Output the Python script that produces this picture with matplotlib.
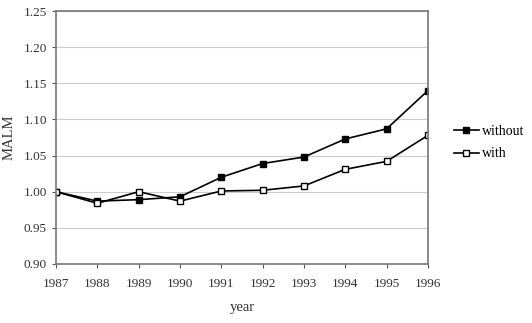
import matplotlib.pyplot as plt

years = [1987, 1988, 1989, 1990, 1991, 1992, 1993, 1994, 1995, 1996]
without = [1.000, 0.987, 0.989, 0.993, 1.020, 1.039, 1.048, 1.073, 1.087, 1.140]
with_ = [1.000, 0.984, 1.000, 0.987, 1.001, 1.002, 1.008, 1.031, 1.042, 1.078]

plt.rcParams['font.family'] = ['Liberation Serif', 'DejaVu Serif']

fig = plt.figure(figsize=(5.32, 3.23), dpi=100)
ax = fig.add_axes([56/532, 1-264/323, (428-56)/532, (264-11)/323])

ax.plot(years, without, color='black', lw=1.2, marker='s', ms=5,
        mfc='black', mec='black', label='without')
ax.plot(years, with_, color='black', lw=1.2, marker='s', ms=5,
        mfc='white', mec='black', mew=1.0, label='with')

ax.set_xlim(1987, 1996)
ax.set_ylim(0.90, 1.25)
ax.set_xticks(years)
ax.set_yticks([0.90, 0.95, 1.00, 1.05, 1.10, 1.15, 1.20, 1.25])
ax.set_yticklabels(['%.2f' % v for v in ax.get_yticks()])
ax.tick_params(labelsize=9.5, length=3, color='#555555')
ax.tick_params(axis='x', pad=7)
ax.grid(True, axis='y', color='#cccccc', lw=0.8)
ax.set_axisbelow(True)
for s in ax.spines.values():
    s.set_color('#777777')
    s.set_linewidth(1.2)
for lab in ax.get_xticklabels() + ax.get_yticklabels():
    lab.set_color('#333333')

ax.set_ylabel('MALM', fontsize=10.5, color='#333333', labelpad=6)
ax.set_xlabel('year', fontsize=10.5, color='#333333', labelpad=8)

ax.legend(loc='center left', bbox_to_anchor=(1.035, 0.48), frameon=False,
          fontsize=10, handlelength=1.8, handletextpad=0.25, labelspacing=0.7)

fig.savefig('out.png', dpi=100)
